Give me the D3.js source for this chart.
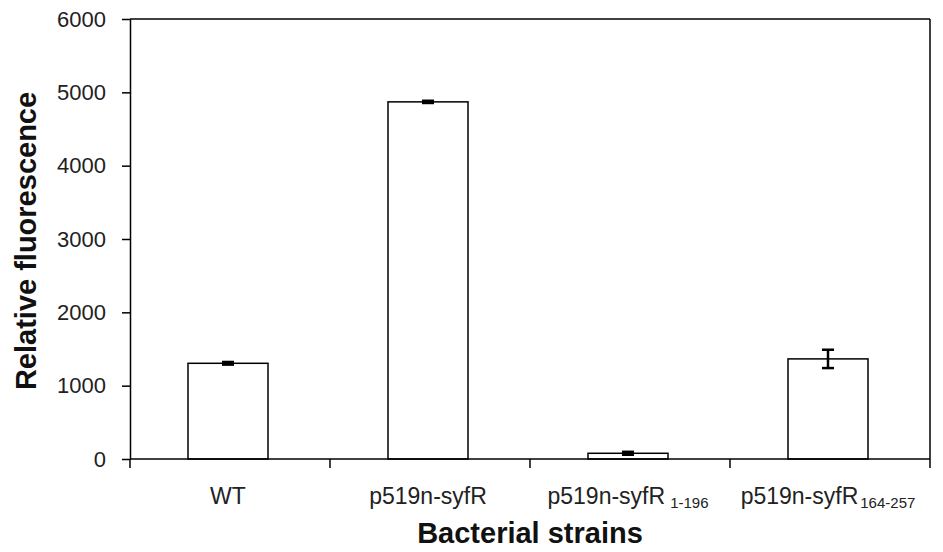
<!DOCTYPE html>
<html><head><meta charset="utf-8">
<script src="https://cdn.jsdelivr.net/npm/d3@7"></script>
<style>
html,body{margin:0;padding:0;background:#fff;}
svg{display:block;font-family:"Liberation Sans",Arial,sans-serif;}
</style></head>
<body>
<svg id="chart" width="943" height="552"></svg>
<script>
const categories = ["WT", "p519n-syfR", "p519n-syfR1-196", "p519n-syfR164-257"];
const labelMain = ["WT", "p519n-syfR", "p519n-syfR", "p519n-syfR"];
const labelSub = ["", "", "1-196", "164-257"];
const values = [1305, 4870, 78, 1365];
const errors = [18, 15, 20, 125];
const yTicks = [0, 1000, 2000, 3000, 4000, 5000, 6000];
const yTitle = "Relative fluorescence";
const xTitle = "Bacterial strains";

const svg = d3.select("#chart");
const L = 130, R = 930, T = 19, B = 459;

const y = d3.scaleLinear().domain([0, 6000]).range([B, T]);
const x = d3.scaleBand().domain(categories).range([L, R]).paddingInner(0.6).paddingOuter(0.3);
const xb = d3.scaleBand().domain(categories).range([L, R]).padding(0);

// bars
svg.append("g").selectAll("rect").data(categories).join("rect")
  .attr("x", d => x(d) - 2)
  .attr("y", (d, i) => y(values[i]))
  .attr("width", x.bandwidth())
  .attr("height", (d, i) => y(0) - y(values[i]))
  .attr("fill", "#fff").attr("stroke", "#000").attr("stroke-width", 1.5);

// error bars
const eg = svg.append("g").attr("stroke", "#000").attr("stroke-width", 2.5);
categories.forEach((c, i) => {
  const cx = x(c) - 2 + x.bandwidth() / 2;
  const y1 = y(values[i] + errors[i]), y2 = y(values[i] - errors[i]);
  eg.append("line").attr("x1", cx).attr("x2", cx).attr("y1", y1).attr("y2", y2);
  eg.append("line").attr("x1", cx - 6).attr("x2", cx + 6).attr("y1", y1).attr("y2", y1);
  eg.append("line").attr("x1", cx - 6).attr("x2", cx + 6).attr("y1", y2).attr("y2", y2);
});

// frame
const fg = svg.append("g").attr("stroke", "#000").attr("stroke-width", 1.5).attr("fill", "none");
fg.append("line").attr("x1", L).attr("x2", R).attr("y1", T).attr("y2", T);
fg.append("line").attr("x1", R).attr("x2", R).attr("y1", T).attr("y2", B);

// y axis
const ya = svg.append("g").attr("transform", `translate(${L},0)`)
  .call(d3.axisLeft(y).tickValues(yTicks).tickFormat(d3.format("d")).tickSize(8).tickSizeOuter(0).tickPadding(16));
ya.select(".domain").attr("stroke-width", 1.5);
ya.selectAll(".tick line").attr("stroke-width", 1.5);
ya.selectAll(".tick text").attr("font-size", 22).attr("font-family", "Liberation Sans, Arial, sans-serif").attr("fill", "#222");

// x axis (ticks at band boundaries)
const xg = svg.append("g");
xg.append("line").attr("x1", L).attr("x2", R).attr("y1", B).attr("y2", B).attr("stroke", "#000").attr("stroke-width", 1.5);
const bounds = categories.map(c => xb(c)).concat([xb.range()[1]]);
xg.selectAll("line.t").data(bounds).join("line").attr("class", "t")
  .attr("x1", d => d).attr("x2", d => d).attr("y1", B).attr("y2", B + 9)
  .attr("stroke", "#000").attr("stroke-width", 1.5);

const lab = xg.selectAll("text.lab").data(categories).join("text").attr("class", "lab")
  .attr("x", d => x(d) - 2 + x.bandwidth() / 2)
  .attr("y", 504)
  .attr("text-anchor", "middle")
  .attr("font-size", 23).attr("fill", "#222");
lab.each(function(d, i) {
  const t = d3.select(this);
  t.append("tspan").text(labelMain[i]);
  if (labelSub[i]) {
    t.append("tspan").attr("dy", 4).attr("dx", i === 2 ? 5 : 2).attr("font-size", 15).text(labelSub[i]);
  }
});

// titles
svg.append("text").attr("x", (L + R) / 2).attr("y", 543).attr("text-anchor", "middle")
  .attr("font-size", 29).attr("font-weight", "bold").attr("fill", "#111").text(xTitle);
svg.append("text").attr("transform", `translate(36,${(T + B) / 2 + 2}) rotate(-90)`)
  .attr("text-anchor", "middle").attr("font-size", 29).attr("font-weight", "bold").attr("fill", "#111").text(yTitle);
</script>
</body></html>
